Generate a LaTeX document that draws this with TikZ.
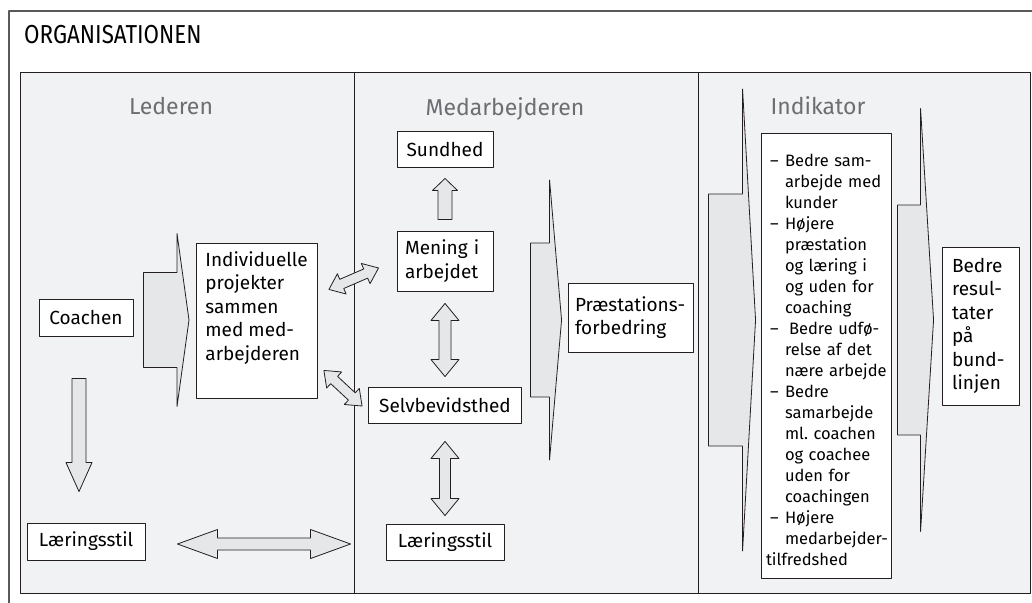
\documentclass[tikz,border=0pt]{standalone}
\usepackage{fontspec}
\setmainfont{Fira Sans}
\newfontfamily\orgfont[FakeStretch=0.86]{Fira Sans}
\usetikzlibrary{calc}
\definecolor{panel}{HTML}{F1F2F4}
\definecolor{pilgraa}{HTML}{E6E7E9}
\definecolor{overgraa}{HTML}{6D6E71}
\definecolor{streg}{HTML}{231F20}
% blokpil: hale, spids, halv skaftbredde, halv hovedbredde, hovedlaengde
\newcommand{\blokpil}[5]{%
	\path (#1) coordinate (s) (#2) coordinate (t);
	\draw[pil] ($(s)!#3!90:(t)$) -- ($(t)!#5!(s)!#3!-90:(s)$) -- ($(t)!#5!(s)!#4!-90:(s)$) -- (t)
		-- ($(t)!#5!(s)!#4!90:(s)$) -- ($(t)!#5!(s)!#3!90:(s)$) -- ($(s)!#3!-90:(t)$) -- cycle;}
% dobbeltpil: ende, ende, halv skaftbredde, halv hovedbredde, hovedlaengde
\newcommand{\dobbeltpil}[5]{%
	\path (#1) coordinate (s) (#2) coordinate (t);
	\draw[pil] (s) -- ($(s)!#5!(t)!#4!90:(t)$) -- ($(s)!#5!(t)!#3!90:(t)$) -- ($(t)!#5!(s)!#3!-90:(s)$)
		-- ($(t)!#5!(s)!#4!-90:(s)$) -- (t) -- ($(t)!#5!(s)!#4!90:(s)$) -- ($(t)!#5!(s)!#3!90:(s)$)
		-- ($(s)!#5!(t)!#3!-90:(t)$) -- ($(s)!#5!(t)!#4!-90:(t)$) -- cycle;}
\newcommand{\punkt}{\par\noindent\llap{\makebox[15pt][l]{--}}}
\newcommand{\ingenbrud}{\hyphenpenalty=10000\exhyphenpenalty=10000}
\begin{document}
\begin{tikzpicture}[x=1pt,y=-1pt,line join=round,
	boks/.style={draw=streg,fill=white,line width=0.9pt,inner sep=0pt,font=\fontsize{19}{23.5}\selectfont\ingenbrud},
	pil/.style={draw=streg,fill=pilgraa,line width=0.8pt},
	overskrift/.style={text=overgraa,font=\fontsize{23}{27}\selectfont}]
	\useasboundingbox (0,0) rectangle (1032,602);
	% ramme og felter
	\draw[black!65,line width=1.3pt,fill=white] (9,11) rectangle (1040,610);
	\draw[streg,line width=0.9pt,fill=panel] (20,72) rectangle (1030,593);
	\draw[streg,line width=0.9pt] (354,72)--(354,593) (698,72)--(698,593);
	\coordinate (axis) at (20,320);
	\node[anchor=west,inner sep=0pt,font=\orgfont\fontsize{26}{30}\selectfont] (org) at (24,35) {ORGANISATIONEN};
	\node[overskrift] (leder) at (171,106) {Lederen};
	\node[overskrift] (medarb) at (505,109) {Medarbejderen};
	\node[overskrift] (indik) at (818,106) {Indikator};
	% kasser
	\node[boks,minimum width=94pt,minimum height=37pt] (coach) at (86,317.5) {Coachen};
	\node[boks,minimum width=118pt,minimum height=37pt] (laer1) at (86,541.5) {Læringsstil};
	\node[boks,anchor=north west,inner xsep=9pt,inner ysep=8pt] (indiv) at (196,243)
		{\parbox[c][139pt][t]{103pt}{\raggedright Individuelle\\projekter\\sammen\\med med-\\arbejderen}};
	\node[boks,minimum width=96pt,minimum height=36pt] (sund) at (445,149) {Sundhed};
	\node[boks,align=left,text width=80pt,inner xsep=8pt,minimum height=60pt] (mening) at (445,261) {Mening~i\\arbejdet};
	\node[boks,minimum width=153pt,minimum height=36pt] (selv) at (445,405) {Selvbevidsthed};
	\node[boks,minimum width=118pt,minimum height=36pt] (laer2) at (445,542) {Læringsstil};
	\node[boks,align=left,text width=111pt,inner xsep=7pt,minimum height=69pt] (prae) at (630.5,317.5) {Præstations-\\forbedring};
	\node[boks,align=left,text width=120pt,inner xsep=5pt,minimum height=445pt,font=\fontsize{16.5}{21}\selectfont\ingenbrud] (ind) at (826,355.5)
		{\leftskip=19pt
		\punkt Bedre~sam-\\arbejde~med\\kunder
		\punkt Højere\\præstation\\og~læring~i\\og~uden~for\\coaching
		\punkt \kern4pt Bedre~udfø-\\relse~af~det\\nære~arbejde
		\punkt Bedre\\samarbejde\\ml.~coachen\\og~coachee\\uden~for\\coachingen
		\punkt Højere\\medarbejder-\\tilfredshed};
	\node[boks,align=left,text width=57pt,inner xsep=10pt,minimum height=158pt] (res) at (980.5,326) {Bedre\\resul-\\tater\\på\\bund-\\linjen};
	% store pile
	\blokpil{[xshift=10pt]coach.east |- axis}{[xshift=-7pt]indiv.west |- axis}{47.5pt}{86.5pt}{12pt}
	\blokpil{[xshift=-37pt]prae.west |- axis}{[xshift=-6pt]prae.west |- axis}{77pt}{140pt}{12pt}
	\blokpil{[xshift=-52pt]ind.west |- axis}{[xshift=-5pt]ind.west |- axis}{126pt}{231pt}{13pt}
	\blokpil{[xshift=-44pt]res.west |- axis}{[xshift=-8pt]res.west |- axis}{115pt}{211.5pt}{13pt}
	% smaa pile
	\blokpil{[xshift=-7pt,yshift=-42pt]coach.south}{[xshift=-7pt,yshift=31pt]laer1.north}{7pt}{13pt}{29pt}
	\blokpil{[yshift=11pt]mening.north}{[yshift=-11pt]sund.south}{7pt}{12.5pt}{12pt}
	\dobbeltpil{[yshift=-12pt]mening.south}{[yshift=10pt]selv.north}{6pt}{14pt}{17pt}
	\dobbeltpil{[yshift=-18pt]selv.south}{[yshift=8pt]laer2.north}{5.5pt}{14pt}{17pt}
	\dobbeltpil{[xshift=32pt,yshift=-2.5pt]laer1.east}{[xshift=-35pt,yshift=-2pt]laer2.west}{6pt}{14.5pt}{40pt}
	\dobbeltpil{[xshift=11pt,yshift=31.5pt]indiv.east}{[xshift=-18pt,yshift=-7pt]mening.west}{5pt}{11pt}{14pt}
	\dobbeltpil{[xshift=6pt,yshift=-49.5pt]indiv.east}{[xshift=-6pt,yshift=-1pt]selv.west}{5pt}{11pt}{14pt}
\end{tikzpicture}
\end{document}
